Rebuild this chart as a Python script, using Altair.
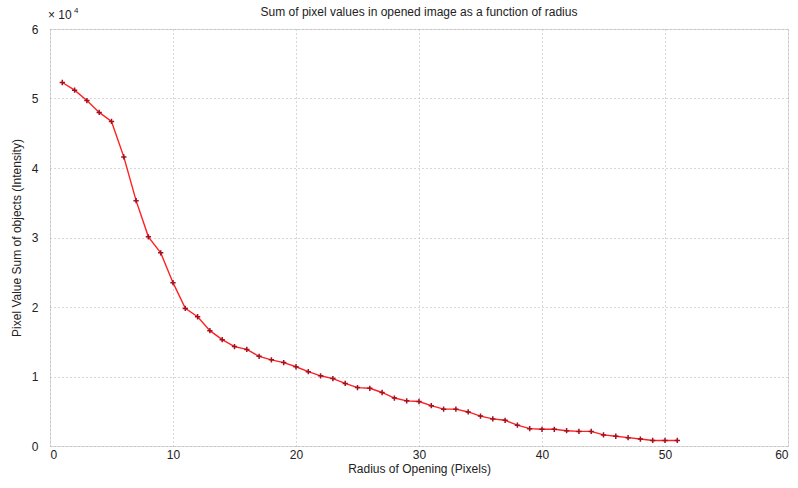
import altair as alt
import pandas as pd

radius = list(range(1, 52))
intensity_e4 = [5.23, 5.12, 4.97, 4.80, 4.67, 4.16, 3.53, 3.01, 2.78, 2.35,
                1.98, 1.86, 1.66, 1.53, 1.43, 1.39, 1.29, 1.24, 1.20, 1.14,
                1.07, 1.01, 0.97, 0.90, 0.84, 0.83, 0.77, 0.69, 0.65, 0.64,
                0.58, 0.53, 0.53, 0.49, 0.43, 0.39, 0.37, 0.30, 0.25, 0.24,
                0.24, 0.22, 0.21, 0.21, 0.16, 0.14, 0.12, 0.10, 0.08, 0.08, 0.08]
x_ticks = [0, 10, 20, 30, 40, 50, 60]
y_ticks = [0, 1, 2, 3, 4, 5, 6]
title_text = "Sum of pixel values in opened image as a function of radius"

df = pd.DataFrame({"r": radius, "v": intensity_e4})
FONT = "Liberation Sans"

x = alt.X("r:Q", scale=alt.Scale(domain=[0, 60], nice=False),
          axis=alt.Axis(values=x_ticks, title="Radius of Opening (Pixels)", format="d",
                        grid=True, gridColor="#b0b0b0", gridDash=[1, 3], gridWidth=1,
                        domain=False, tickSize=0, labelPadding=3,
                        labelFont=FONT, labelFontSize=12, labelColor="#222",
                        titleFont=FONT, titleFontSize=12, titleFontWeight="normal",
                        titleColor="#222", titlePadding=3))
y = alt.Y("v:Q", scale=alt.Scale(domain=[0, 6], nice=False),
          axis=alt.Axis(values=y_ticks, title="Pixel Value Sum of objects (Intensity)", format="d",
                        grid=True, gridColor="#b0b0b0", gridDash=[1, 3], gridWidth=1,
                        domain=False, tickSize=0, labelPadding=12,
                        labelFont=FONT, labelFontSize=12, labelColor="#222",
                        titleFont=FONT, titleFontSize=12, titleFontWeight="normal",
                        titleColor="#222", titlePadding=8))

line = alt.Chart(df).mark_line(color="#ff2020", strokeWidth=1.4).encode(x=x, y=y)
pts = alt.Chart(df).mark_point(shape="M-1,0L1,0M0,-1L0,1", filled=False, size=28,
                               color="#a01020", strokeWidth=1.5, opacity=1).encode(x="r:Q", y="v:Q")

exp_txt = alt.Chart(pd.DataFrame({"t": ["× 10"]})).mark_text(
    font=FONT, fontSize=12, color="#222", align="left", baseline="bottom"
).encode(text="t:N", x=alt.value(-2), y=alt.value(-7))
exp_sup = alt.Chart(pd.DataFrame({"t": ["4"]})).mark_text(
    font=FONT, fontSize=8, color="#222", align="left", baseline="bottom"
).encode(text="t:N", x=alt.value(24), y=alt.value(-14))
title = alt.Chart(pd.DataFrame({"t": [title_text]})).mark_text(
    font=FONT, fontSize=12, color="#222", align="center", baseline="bottom"
).encode(text="t:N", x=alt.value(369), y=alt.value(-10))

chart = alt.layer(line, pts, exp_txt, exp_sup, title).properties(
    width=738, height=417,
    autosize=alt.AutoSizeParams(type="none"),
    padding={"left": 50, "top": 29, "right": 10, "bottom": 42},
).configure_view(stroke="#555", strokeWidth=1).configure(background="white")

chart.save("out.html", embed_options={"renderer": "svg", "actions": False})
